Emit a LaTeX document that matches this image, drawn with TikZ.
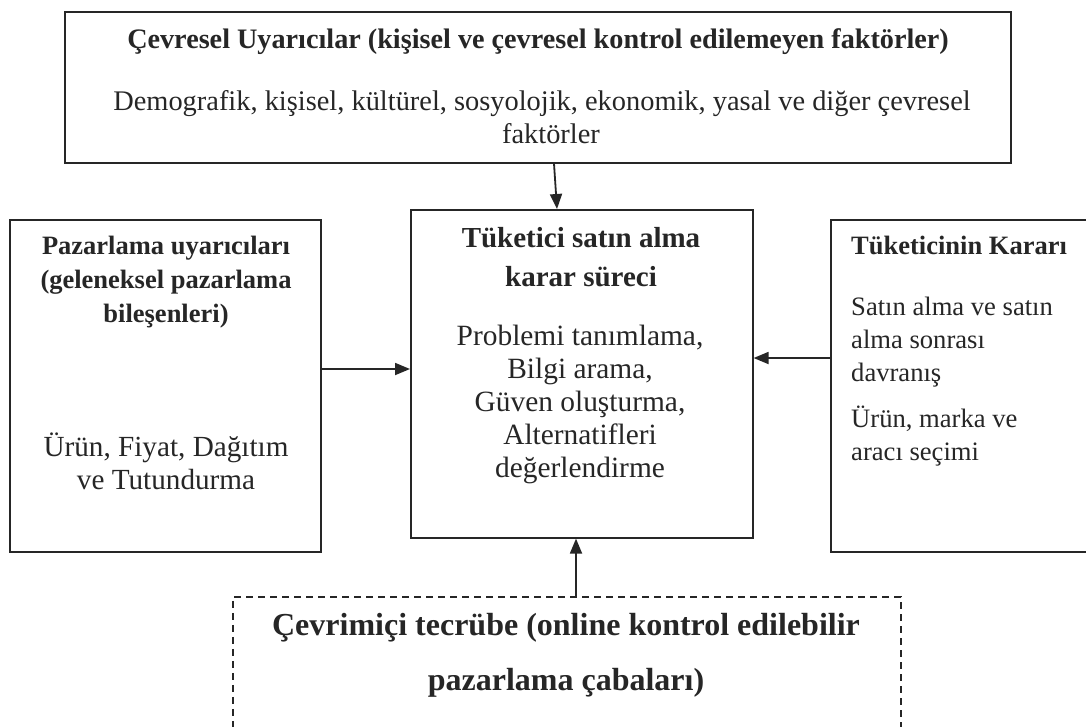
\documentclass[tikz,border=0pt]{standalone}
\usepackage{fontspec}
\setmainfont{Liberation Serif}
\usetikzlibrary{arrows.meta}
\tikzset{
  boxnode/.style={draw=black!85, line width=1.6pt, inner sep=0pt, anchor=north west},
  dashbox/.style={draw=black!85, line width=1.6pt, inner sep=0pt, anchor=north west, dash pattern=on 7pt off 5pt},
  arr/.style={line width=1.8pt, draw=black!85, -{Triangle[length=15pt,width=12pt]}},
  txt/.style={inner sep=0pt, anchor=center, text=black!85, text height=0.68em, text depth=0.2em},
  bodyfont/.style={font=\fontsize{28.4}{30}\selectfont},
  centerbody/.style={font=\fontsize{29.4}{30}\selectfont},
  headfont/.style={font=\bfseries\fontsize{28.2}{30}\selectfont},
  sidehead/.style={font=\bfseries\fontsize{26.5}{30}\selectfont},
  leftbody/.style={font=\fontsize{29.2}{30}\selectfont},
  rightbody/.style={font=\fontsize{26.6}{30}\selectfont},
  centerhead/.style={font=\bfseries\fontsize{29}{30}\selectfont},
  bighead/.style={font=\bfseries\fontsize{32}{30}\selectfont}
}
\begin{document}
\begin{tikzpicture}[x=1pt,y=-1pt]
\clip (0,0) rectangle (1086,726);
\fill[white] (0,0) rectangle (1086,726);
% boxes
\node[boxnode, minimum width=946pt, minimum height=151pt] (top) at (64,11) {};
\node[boxnode, minimum width=311pt, minimum height=332pt] (left) at (9,219) {};
\node[boxnode, minimum width=342pt, minimum height=328pt] (center) at (410,209) {};
\node[boxnode, minimum width=300pt, minimum height=332pt] (right) at (830,219) {};
\node[dashbox, minimum width=668pt, minimum height=160pt] (online) at (232,596) {};
\begin{scope}[shift={(0,6)}]
% top box text
\node[txt, headfont] (t1) at (538,40) {Çevresel Uyarıcılar (kişisel ve çevresel kontrol edilemeyen faktörler)};
\node[txt, bodyfont] (t2) at (542,102) {Demografik, kişisel, kültürel, sosyolojik, ekonomik, yasal ve diğer çevresel};
\node[txt, bodyfont] (t3) at (551,135) {faktörler};
% left box text
\node[txt, sidehead] (l1) at (166,246) {Pazarlama uyarıcıları};
\node[txt, sidehead] (l2) at (166,280) {(geleneksel pazarlama};
\node[txt, sidehead] (l3) at (166,314) {bileşenleri)};
\node[txt, leftbody] (l4) at (166,448) {Ürün, Fiyat, Dağıtım};
\node[txt, leftbody] (l5) at (166,481) {ve Tutundurma};
% center box text
\node[txt, centerhead] (c1) at (581,239) {Tüketici satın alma};
\node[txt, centerhead] (c2) at (581,278) {karar süreci};
\node[txt, centerbody] (c3) at (580,337) {Problemi tanımlama,};
\node[txt, centerbody] (c4) at (580,370) {Bilgi arama,};
\node[txt, centerbody] (c5) at (580,403) {Güven oluşturma,};
\node[txt, centerbody] (c6) at (580,436) {Alternatifleri};
\node[txt, centerbody] (c7) at (580,469) {değerlendirme};
% right box text
\node[txt, sidehead, anchor=west] (r1) at (851,246) {Tüketicinin Kararı};
\node[txt, rightbody, anchor=west] (r2) at (851,307) {Satın alma ve satın};
\node[txt, rightbody, anchor=west] (r3) at (851,340) {alma sonrası};
\node[txt, rightbody, anchor=west] (r4) at (851,373) {davranış};
\node[txt, rightbody, anchor=west] (r5) at (851,419) {Ürün, marka ve};
\node[txt, rightbody, anchor=west] (r6) at (851,452) {aracı seçimi};
% bottom box text
\node[txt, bighead] (b1) at (566,627) {Çevrimiçi tecrübe (online kontrol edilebilir};
\node[txt, bighead] (b2) at (566,682) {pazarlama çabaları)};
\end{scope}
% arrows
\draw[arr] (554,0 |- top.south) -- (557,0 |- center.north);
\draw[arr] (left.east |- 0,369) -- (center.west |- 0,369);
\draw[arr] (right.west |- 0,358) -- (center.east |- 0,358);
\draw[arr] (576,0 |- online.north) -- (576,0 |- center.south);
\end{tikzpicture}
\end{document}
